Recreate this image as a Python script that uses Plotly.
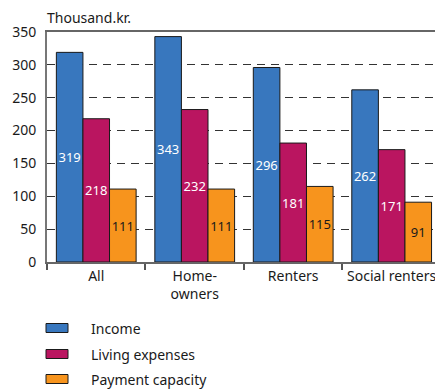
import plotly.graph_objects as go

# Household budget groups
categories = ["All", "Home-<br>owners", "Renters", "Social renters"]
income = [319, 343, 296, 262]
living_expenses = [218, 232, 181, 171]
payment_capacity = [111, 111, 115, 91]

series_names = ["Income", "Living expenses", "Payment capacity"]
series_colors = ["#3877BE", "#BA1560", "#F7941D"]
label_colors = ["white", "white", "#1a1a1a"]

FONT = "Noto Sans"
W, H = 435, 390
ML, MR, MT, MB = 47, 0, 32, 128
plot_w = W - ML - MR
plot_h = H - MT - MB


def px_x(px):
    return (px - ML) / plot_w


def px_y(py):
    return (H - MB - py) / plot_h


fig = go.Figure()
for name, vals, col, lc in zip(series_names,
                               [income, living_expenses, payment_capacity],
                               series_colors, label_colors):
    fig.add_trace(go.Bar(
        x=categories, y=vals, name=name,
        marker=dict(color=col, line=dict(color="#1a1a1a", width=1)),
        text=[str(v) for v in vals],
        textposition="inside",
        insidetextanchor="middle",
        textangle=0,
        insidetextfont=dict(family=FONT, size=13, color=lc),
        showlegend=False,
        hoverinfo="skip",
    ))

# Legend drawn as swatches plus labels below the plot
legend_rows = [328, 354, 379]
for name, col, py in zip(series_names, series_colors, legend_rows):
    fig.add_shape(type="rect", xref="paper", yref="paper",
                  x0=px_x(46), x1=px_x(68), y0=px_y(py + 4.5), y1=px_y(py - 4.5),
                  fillcolor=col, line=dict(color="#1a1a1a", width=1))
    fig.add_annotation(text=name, xref="paper", yref="paper",
                       x=px_x(89), y=px_y(py), xanchor="left", yanchor="middle",
                       showarrow=False,
                       font=dict(family=FONT, size=14, color="#1a1a1a"))

fig.add_annotation(text="Thousand.kr.", xref="paper", yref="paper",
                   x=px_x(45), y=px_y(18), xanchor="left", yanchor="middle",
                   showarrow=False,
                   font=dict(family=FONT, size=14, color="#1a1a1a"))

fig.update_layout(
    width=W, height=H,
    margin=dict(l=ML, r=MR, t=MT, b=MB, pad=0),
    paper_bgcolor="white", plot_bgcolor="white",
    barmode="group", bargap=0.19, bargroupgap=0,
    font=dict(family=FONT, size=14, color="#1a1a1a"),
    uniformtext=dict(minsize=13, mode="show"),
)
fig.update_xaxes(
    range=[-0.5, 3.44], tickson="boundaries", ticks="outside", ticklen=6,
    tickcolor="#555", tickwidth=1.5,
    showline=True, linecolor="#666", linewidth=2, mirror=True,
    showgrid=False, tickfont=dict(family=FONT, size=14, color="#1a1a1a"),
)
fig.update_yaxes(
    range=[0, 350], dtick=50, tick0=0,
    showline=True, linecolor="#777", linewidth=2,
    showgrid=True, gridcolor="#333", gridwidth=1, griddash="8px,6px",
    zeroline=False, ticks="", ticklabelstandoff=6,
    tickfont=dict(family=FONT, size=14, color="#1a1a1a"),
)

fig.write_html("out.html")
